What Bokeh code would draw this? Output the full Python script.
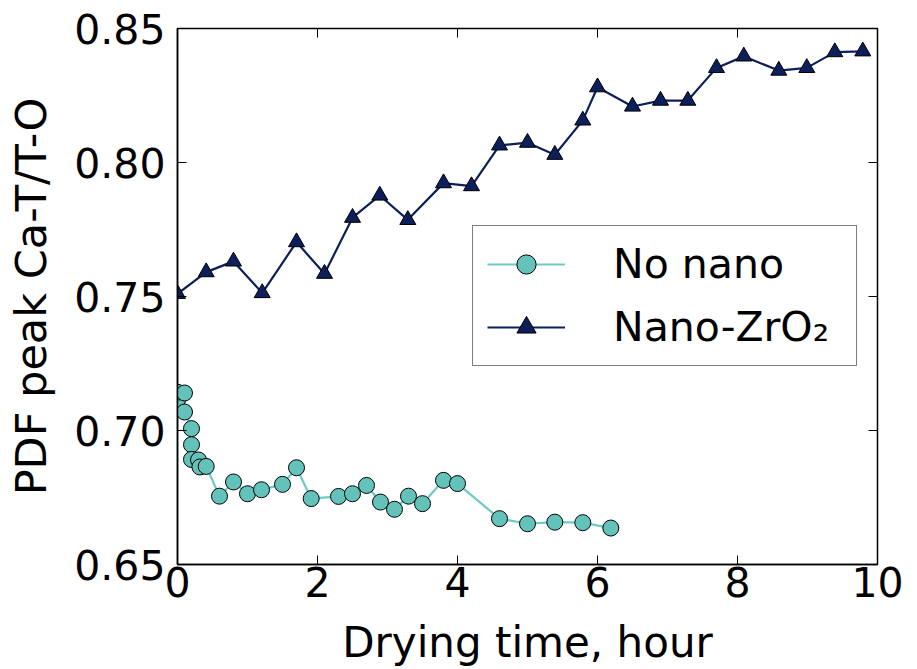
import math
from bokeh.plotting import figure
from bokeh.models import Range1d, FixedTicker, PrintfTickFormatter, Legend, LegendItem
from bokeh.embed import file_html
from bokeh.resources import INLINE

# ---- data ----
no_nano_t = [0.0, 0.0, 0.1, 0.1, 0.2, 0.2, 0.2, 0.3, 0.32, 0.41, 0.6, 0.8, 1.0, 1.2,
             1.5, 1.7, 1.91, 2.3, 2.5, 2.7, 2.9, 3.1, 3.3, 3.5, 3.8, 4.0, 4.6, 5.0,
             5.39, 5.79, 6.19]
no_nano_v = [0.7114, 0.7143, 0.7140, 0.7069, 0.7007, 0.6947, 0.6892, 0.6890, 0.6864,
             0.6866, 0.6755, 0.6808, 0.6764, 0.6779, 0.6799, 0.6861, 0.6746, 0.6754,
             0.6764, 0.6795, 0.6733, 0.6706, 0.6755, 0.6727, 0.6814, 0.6802, 0.6671,
             0.6652, 0.6658, 0.6656, 0.6636]
zro2_t = [0.0, 0.41, 0.8, 1.21, 1.7, 2.1, 2.5, 2.89, 3.29, 3.8, 4.2, 4.6, 5.0, 5.39,
          5.79, 6.0, 6.5, 6.9, 7.29, 7.7, 8.09, 8.59, 8.99, 9.39, 9.79]
zro2_v = [0.7510, 0.7591, 0.7631, 0.7513, 0.7703, 0.7585, 0.7794, 0.7877, 0.7786,
          0.7923, 0.7912, 0.8064, 0.8074, 0.8029, 0.8157, 0.8281, 0.8209, 0.8231,
          0.8231, 0.8353, 0.8396, 0.8343, 0.8353, 0.8412, 0.8415]
x_ticks = [0, 2, 4, 6, 8, 10]
y_ticks = [0.65, 0.70, 0.75, 0.80, 0.85]
x_lim = (0, 10)
y_lim = (0.65, 0.85)
series_labels = ["No nano", "Nano-ZrO\u2082"]
x_label = "Drying time, hour"
y_label = "PDF peak Ca-T/T-O"

FONT = "DejaVu Sans"
TEAL_FILL = "#63c3ba"
TEAL_LINE = "#6ccbc2"
NAVY = "#0c1f5a"

p = figure(width=917, height=669, output_backend="svg", toolbar_location=None,
           x_range=Range1d(*x_lim), y_range=Range1d(*y_lim),
           min_border_left=177, min_border_top=28, min_border_right=40,
           min_border_bottom=105)
p.background_fill_color = "white"
p.border_fill_color = "white"
p.xgrid.visible = False
p.ygrid.visible = False
p.outline_line_color = "black"
p.outline_line_width = 1.5

for ax in (p.xaxis[0], p.yaxis[0]):
    ax.major_tick_in = 9
    ax.major_tick_out = 0
    ax.minor_tick_line_color = None
    ax.axis_line_width = 1.5
    ax.major_tick_line_width = 1
    ax.major_label_text_font = FONT
    ax.major_label_text_font_size = "41px"
    ax.major_label_text_color = "black"
    ax.axis_label_text_font = FONT
    ax.axis_label_text_font_style = "normal"
    ax.axis_label_text_color = "black"

p.xaxis.axis_label_text_font_size = "42px"
p.yaxis.axis_label_text_font_size = "43px"
p.xaxis.ticker = FixedTicker(ticks=x_ticks)
p.yaxis.ticker = FixedTicker(ticks=y_ticks)
p.yaxis.formatter = PrintfTickFormatter(format="%.2f")
p.xaxis.axis_label = x_label
p.yaxis.axis_label = y_label
p.xaxis.major_label_standoff = 2
p.xaxis.axis_label_standoff = 18
p.yaxis.major_label_standoff = 12
p.yaxis.axis_label_standoff = 15

# mirrored inward ticks on the top and right edges (screen-length rays)
p.ray(x=x_ticks, y=[y_lim[1]] * len(x_ticks), length=9, length_units="screen",
      angle=-math.pi / 2, line_color="black", line_width=1)
p.ray(x=[x_lim[1]] * len(y_ticks), y=y_ticks, length=9, length_units="screen",
      angle=math.pi, line_color="black", line_width=1)

# series
l1 = p.line(no_nano_t, no_nano_v, line_color=TEAL_LINE, line_width=2.2)
s1 = p.scatter(no_nano_t, no_nano_v, marker="circle", size=16,
               fill_color=TEAL_FILL, line_color="black", line_width=1)
l2 = p.line(zro2_t, zro2_v, line_color=NAVY, line_width=2.2)
s2 = p.scatter(zro2_t, zro2_v, marker="triangle", size=16,
               fill_color=NAVY, line_color="black", line_width=1)

legend = Legend(items=[LegendItem(label=series_labels[0], renderers=[l1, s1]),
                       LegendItem(label=series_labels[1], renderers=[l2, s2])],
                location=(295, 198))
legend.label_text_font = FONT
legend.label_text_font_size = "41px"
legend.label_text_color = "black"
legend.border_line_color = "black"
legend.border_line_width = 1.5
legend.background_fill_color = "white"
legend.background_fill_alpha = 1.0
legend.padding = 14
legend.spacing = 15
legend.glyph_width = 78
legend.glyph_height = 48
legend.label_height = 48
legend.label_standoff = 48
legend.label_width = 229
legend.margin = 0
p.add_layout(legend, "center")

open("out.html", "w").write(file_html(p, INLINE))
